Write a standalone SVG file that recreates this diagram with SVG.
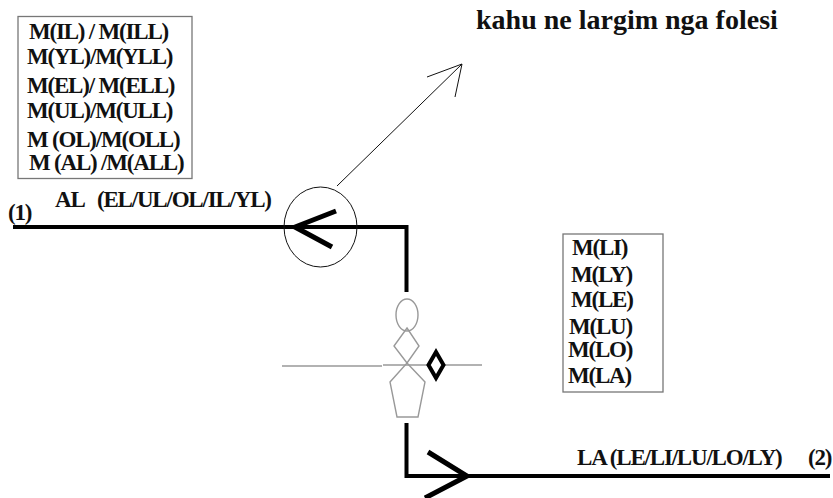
<svg xmlns="http://www.w3.org/2000/svg" width="833" height="498" viewBox="0 0 833 498">
<style>
text{font-family:"Liberation Serif","Times New Roman",serif;font-weight:bold;fill:#111}
.t{font-size:23px;letter-spacing:-1.2px}
.box{fill:#fff;stroke:#777;stroke-width:1.3}
.heavy{fill:none;stroke:#000;stroke-width:4}
.head{fill:none;stroke:#000;stroke-width:5}
.grey{fill:none;stroke:#999;stroke-width:1.4}
.thin{fill:none;stroke:#111;stroke-width:1}
</style>
<rect width="833" height="498" fill="#fff"/>
<g id="box-left">
<rect class="box" x="18" y="16.500" width="174" height="162"/>
<text class="t" x="29" y="39">M(IL) / M(ILL)</text>
<text class="t" x="27" y="64">M(YL)/M(YLL)</text>
<text class="t" x="27" y="93">M(EL)/ M(ELL)</text>
<text class="t" x="27" y="118">M(UL)/M(ULL)</text>
<text class="t" x="27" y="147">M (OL)/M(OLL)</text>
<text class="t" x="29" y="170">M (AL) /M(ALL)</text>
</g>
<g id="box-right">
<rect class="box" x="563" y="234" width="100" height="158"/>
<text class="t" x="572" y="255">M(LI)</text>
<text class="t" x="571" y="282">M(LY)</text>
<text class="t" x="571" y="307">M(LE)</text>
<text class="t" x="569" y="334">M(LU)</text>
<text class="t" x="568" y="357">M(LO)</text>
<text class="t" x="568" y="383">M(LA)</text>
</g>
<g id="labels">
<text x="476" y="29" font-size="28">kahu ne largim nga folesi</text>
<text class="t" x="55" y="207">AL</text>
<text class="t" x="97" y="207">(EL/UL/OL/IL/YL)</text>
<text class="t" x="8" y="220">(1)</text>
<text class="t" x="577" y="465">LA (LE/LI/LU/LO/LY)</text>
<text class="t" x="808" y="465">(2)</text>
</g>
<g id="connectors">
<path class="heavy" d="M13 227H406.500V292"/>
<path class="head" d="M336 211L295 227L332 247"/>
<path class="heavy" d="M406.500 423V476H830"/>
<path class="head" d="M428 452L467 476L425 498"/>
<path class="thin" d="M337 186L462 64M427 77L462 64L455 97"/>
</g>
<g id="circle-marker"><ellipse class="thin" cx="320.500" cy="227" rx="36.500" ry="40"/></g>
<g id="figure">
<ellipse class="grey" cx="407" cy="315" rx="11" ry="16"/>
<path class="grey" d="M407 328L419 346L407 363L394 346Z"/>
<path class="grey" d="M407 363L425 382L418 417H397L390 382Z"/>
<path class="grey" d="M282 366H382M383 365H482"/>
<path fill="#fff" stroke="#000" stroke-width="4" d="M436 352L443.500 365L436 378L428.500 365Z"/>
</g>
</svg>
